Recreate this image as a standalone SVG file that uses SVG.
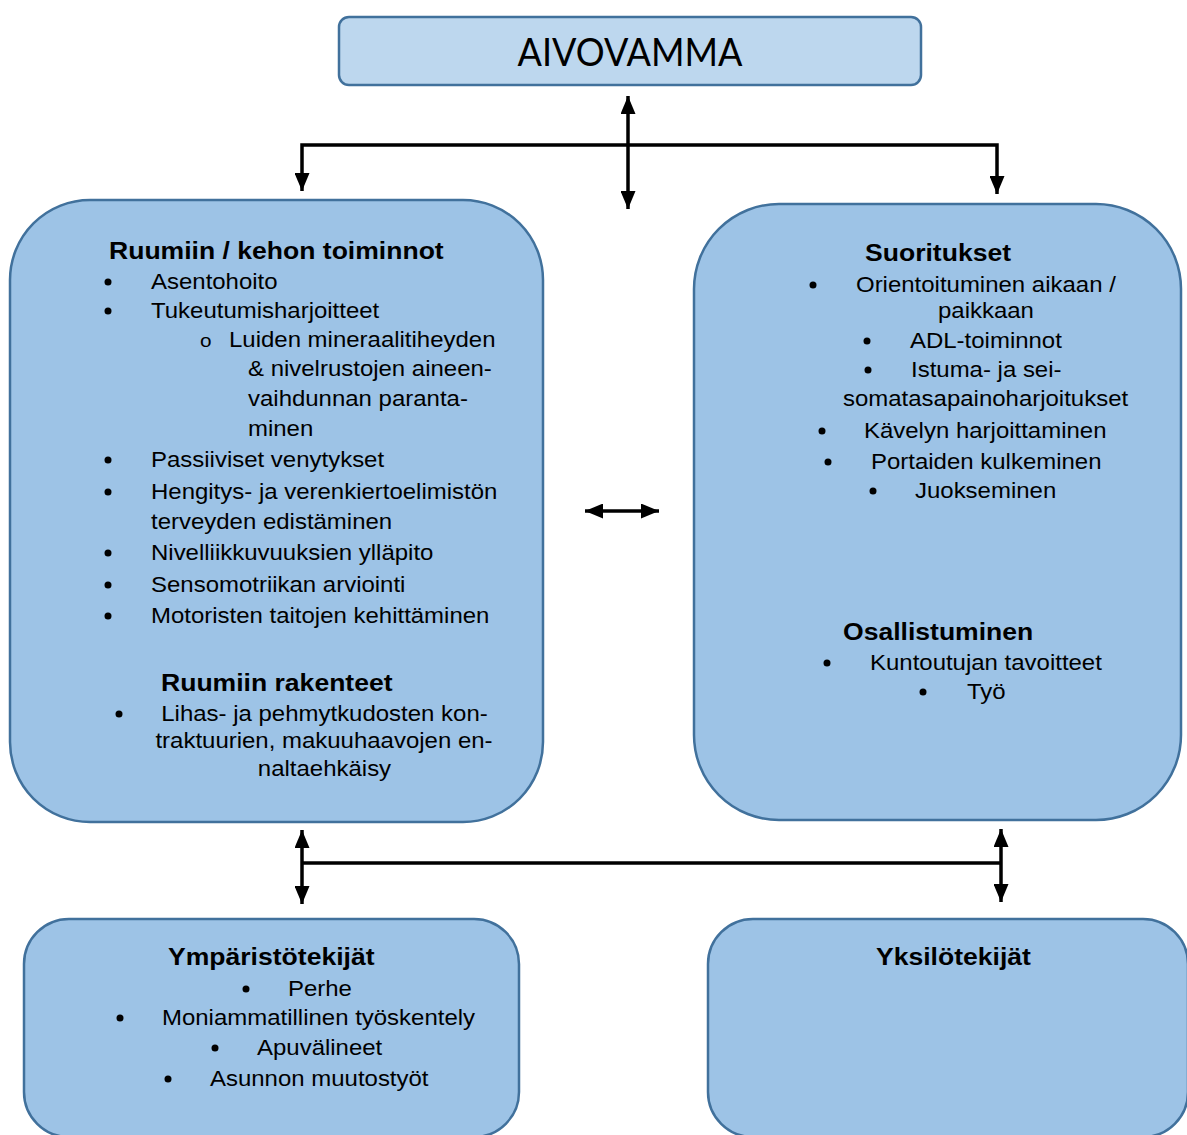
<svg xmlns="http://www.w3.org/2000/svg" width="1187" height="1135" viewBox="0 0 1187 1135">
  <style>
    .box { fill: #9dc3e6; stroke: #41719c; stroke-width: 2.5; }
    .top { fill: #bdd7ee; stroke: #41719c; stroke-width: 2.5; }
    .t { font-family: "Liberation Sans", Arial, sans-serif; font-size: 22px; fill: #000;
         transform-box: fill-box; transform-origin: 0 0; transform: scaleX(1.09); }
    .h { font-weight: bold; font-size: 23.5px; transform: scaleX(1.13); }
    .c { text-anchor: middle; transform-origin: 50% 50%; }
    .sub { font-size: 19px; }
    .dot { fill: #000; }
    .link { fill: none; stroke: #000; stroke-width: 3.5; }
    .title { font-family: Lato, "Liberation Sans", sans-serif; font-size: 38px; fill: #000; text-anchor: middle; }
  </style>
  <defs>
    <marker id="head" viewBox="0 0 18 15" refX="18" refY="7.5" markerWidth="18" markerHeight="15"
            markerUnits="userSpaceOnUse" orient="auto-start-reverse">
      <path d="M0,0 L18,7.5 L0,15 z" fill="#000"/>
    </marker>
  </defs>

  <rect width="1187" height="1135" fill="#fff"/>

  <!-- connectors -->
  <g id="connectors">
    <path class="link" d="M628,96 V209" marker-start="url(#head)" marker-end="url(#head)"/>
    <path class="link" d="M302,191 V145 H997 V194" marker-start="url(#head)" marker-end="url(#head)"/>
    <path class="link" d="M585,511 H659" marker-start="url(#head)" marker-end="url(#head)"/>
    <path class="link" d="M302,830 V904" marker-start="url(#head)" marker-end="url(#head)"/>
    <path class="link" d="M302,863 H1001"/>
    <path class="link" d="M1001,829 V902" marker-start="url(#head)" marker-end="url(#head)"/>
  </g>

  <!-- top: brain injury -->
  <g id="aivovamma">
    <rect class="top" x="339" y="17" width="582" height="68" rx="10"/>
    <text class="title" x="630" y="66" textLength="225" lengthAdjust="spacingAndGlyphs">AIVOVAMMA</text>
  </g>

  <!-- body functions and structures -->
  <g id="ruumiin-toiminnot">
    <rect class="box" x="10" y="200" width="533" height="622" rx="80"/>
    <text class="t h" x="109" y="259">Ruumiin / kehon toiminnot</text>
    <circle class="dot" cx="108" cy="282" r="3.5"/>
    <text class="t" x="151" y="289">Asentohoito</text>
    <circle class="dot" cx="108" cy="311" r="3.5"/>
    <text class="t" x="151" y="318">Tukeutumisharjoitteet</text>
    <text class="t sub" x="200" y="347">o</text>
    <text class="t" x="229" y="347">Luiden mineraalitiheyden</text>
    <text class="t" x="248" y="376">&amp; nivelrustojen aineen-</text>
    <text class="t" x="248" y="406">vaihdunnan paranta-</text>
    <text class="t" x="248" y="436">minen</text>
    <circle class="dot" cx="108" cy="460" r="3.5"/>
    <text class="t" x="151" y="467">Passiiviset venytykset</text>
    <circle class="dot" cx="108" cy="492" r="3.5"/>
    <text class="t" x="151" y="499">Hengitys- ja verenkiertoelimistön</text>
    <text class="t" x="151" y="529">terveyden edistäminen</text>
    <circle class="dot" cx="108" cy="553" r="3.5"/>
    <text class="t" x="151" y="560">Nivelliikkuvuuksien ylläpito</text>
    <circle class="dot" cx="108" cy="585" r="3.5"/>
    <text class="t" x="151" y="592">Sensomotriikan arviointi</text>
    <circle class="dot" cx="108" cy="616" r="3.5"/>
    <text class="t" x="151" y="623">Motoristen taitojen kehittäminen</text>

    <text class="t h" x="161" y="691">Ruumiin rakenteet</text>
    <circle class="dot" cx="119" cy="714" r="3.5"/>
    <text class="t c" x="324.5" y="721">Lihas- ja pehmytkudosten kon-</text>
    <text class="t c" x="324" y="748">traktuurien, makuuhaavojen en-</text>
    <text class="t c" x="324.5" y="776">naltaehkäisy</text>
  </g>

  <!-- activities and participation -->
  <g id="suoritukset">
    <rect class="box" x="694" y="204" width="487" height="616" rx="85"/>
    <text class="t h" x="865" y="261">Suoritukset</text>
    <circle class="dot" cx="813" cy="285" r="3.5"/>
    <text class="t" x="856" y="292">Orientoituminen aikaan /</text>
    <text class="t" x="938" y="318">paikkaan</text>
    <circle class="dot" cx="867" cy="341" r="3.5"/>
    <text class="t" x="910" y="348">ADL-toiminnot</text>
    <circle class="dot" cx="868" cy="370" r="3.5"/>
    <text class="t" x="911" y="377">Istuma- ja sei-</text>
    <text class="t" x="843" y="406">somatasapainoharjoitukset</text>
    <circle class="dot" cx="822" cy="431" r="3.5"/>
    <text class="t" x="864" y="438">Kävelyn harjoittaminen</text>
    <circle class="dot" cx="828" cy="462" r="3.5"/>
    <text class="t" x="871" y="469">Portaiden kulkeminen</text>
    <circle class="dot" cx="873" cy="491" r="3.5"/>
    <text class="t" x="915" y="498">Juokseminen</text>

    <text class="t h" x="843" y="640">Osallistuminen</text>
    <circle class="dot" cx="827" cy="663" r="3.5"/>
    <text class="t" x="870" y="670">Kuntoutujan tavoitteet</text>
    <circle class="dot" cx="923" cy="692" r="3.5"/>
    <text class="t" x="967" y="699">Työ</text>
  </g>

  <!-- environmental factors -->
  <g id="ymparistotekijat">
    <rect class="box" x="24" y="919" width="495" height="218" rx="45"/>
    <text class="t h" x="168" y="965">Ympäristötekijät</text>
    <circle class="dot" cx="246" cy="989" r="3.5"/>
    <text class="t" x="288" y="996">Perhe</text>
    <circle class="dot" cx="120" cy="1018" r="3.5"/>
    <text class="t" x="162" y="1025">Moniammatillinen työskentely</text>
    <circle class="dot" cx="215" cy="1048" r="3.5"/>
    <text class="t" x="257" y="1055">Apuvälineet</text>
    <circle class="dot" cx="168" cy="1079" r="3.5"/>
    <text class="t" x="210" y="1086">Asunnon muutostyöt</text>
  </g>

  <!-- personal factors -->
  <g id="yksilotekijat">
    <rect class="box" x="708" y="919" width="480" height="218" rx="45"/>
    <text class="t h" x="876" y="965">Yksilötekijät</text>
  </g>
</svg>
